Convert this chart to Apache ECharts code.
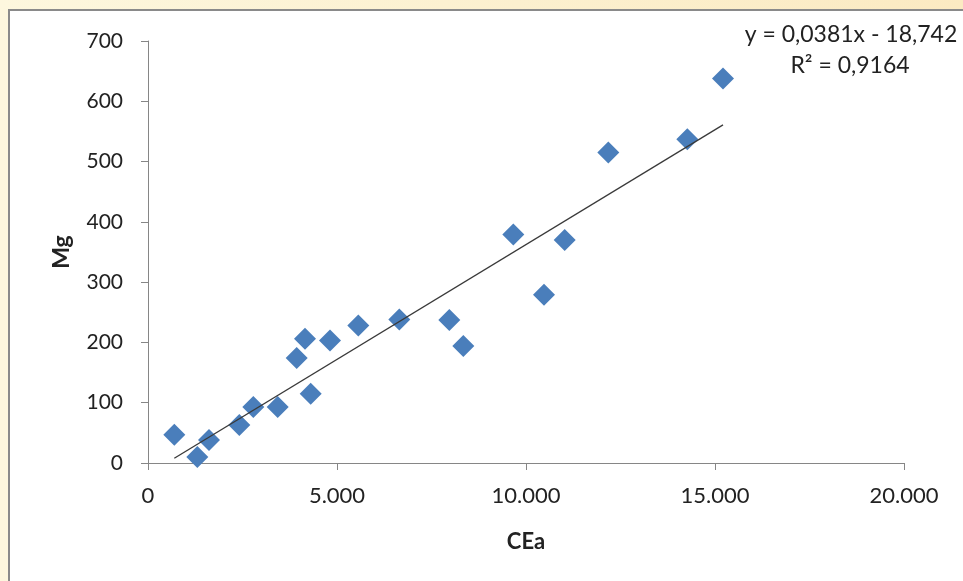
<!DOCTYPE html>
<html><head><meta charset="utf-8">
<script src="https://cdn.jsdelivr.net/npm/echarts@6/dist/echarts.min.js"></script>
<style>html,body{margin:0;padding:0;background:#fdf5da;}#c{width:963px;height:581px;}</style>
</head><body><div id="c"></div>
<script>
const ceaValues = [696, 1304, 1614, 2415, 2786, 3431, 3934, 4153, 4304, 4815, 5564, 6648, 7971, 8341, 9664, 10476, 11024, 12177, 14267, 15212];
const mgValues  = [47, 10, 38, 63, 93, 93, 174, 206, 115, 203, 228, 238, 237, 194, 379, 279, 370, 515, 537, 638];
const trendSlope = 0.0381;
const trendIntercept = -18.742;
const equationText = 'y = 0,0381x - 18,742';
const r2Text = 'R² = 0,9164';
const xTickLabels = ['0', '5.000', '10.000', '15.000', '20.000'];
const xTicks = [0, 5000, 10000, 15000, 20000];

const points = ceaValues.map((x, i) => [x, mgValues[i]]);
const xMin = Math.min(...ceaValues), xMax = Math.max(...ceaValues);
const trend = [[xMin, trendSlope * xMin + trendIntercept], [xMax, trendSlope * xMax + trendIntercept]];

const chart = echarts.init(document.getElementById('c'), null, {renderer: 'canvas'});
const font = 'Lato, "Open Sans", sans-serif';
chart.setOption({
  animation: false,
  backgroundColor: 'transparent',
  graphic: [
    {type: 'rect', z: -10, shape: {x: 0, y: 0, width: 963, height: 581},
     style: {fill: new echarts.graphic.LinearGradient(0, 0, 1, 0, [{offset: 0, color: '#fdf7de'}, {offset: 1, color: '#fbeac2'}])}},
    {type: 'rect', z: -9, shape: {x: 9, y: 10, width: 1000, height: 700},
     style: {fill: '#ffffff', stroke: '#8a8a8a', lineWidth: 2}},
    {type: 'text', x: 851, y: 35, z: 10,
     style: {text: equationText, font: '23px ' + font, fill: '#222', align: 'center', verticalAlign: 'middle'}},
    {type: 'text', x: 850, y: 66, z: 10,
     style: {text: r2Text, font: '23px ' + font, fill: '#222', align: 'center', verticalAlign: 'middle'}}
  ],
  grid: {left: 148, right: 59, top: 41, bottom: 118, containLabel: false},
  xAxis: {
    type: 'value', min: 0, max: 20000, interval: 5000,
    name: 'CEa', nameLocation: 'middle', nameGap: 68,
    nameTextStyle: {fontFamily: font, fontWeight: 'bold', fontSize: 22, color: '#222'},
    axisLine: {show: true, onZero: false, lineStyle: {color: '#868686', width: 1}},
    axisTick: {show: true, length: 7, lineStyle: {color: '#868686'}},
    splitLine: {show: false},
    axisLabel: {fontFamily: font, fontSize: 22, color: '#222', margin: 22,
      formatter: v => { const i = xTicks.indexOf(v); return i >= 0 ? xTickLabels[i] : ''; }}
  },
  yAxis: {
    type: 'value', min: 0, max: 700, interval: 100,
    name: 'Mg', nameLocation: 'middle', nameGap: 75, nameRotate: 90,
    nameTextStyle: {fontFamily: font, fontWeight: 'bold', fontSize: 23, color: '#222'},
    axisLine: {show: true, lineStyle: {color: '#868686', width: 1}},
    axisTick: {show: true, length: 7, lineStyle: {color: '#868686'}},
    splitLine: {show: false},
    axisLabel: {fontFamily: font, fontSize: 21, color: '#222', margin: 25}
  },
  series: [
    {type: 'line', data: trend, symbol: 'none', z: 3,
     lineStyle: {color: '#3a3a3a', width: 1.3}, silent: true},
    {type: 'scatter', data: points, symbol: 'diamond', symbolSize: 22, z: 2,
     itemStyle: {color: '#4a7ebb', opacity: 1}}
  ]
});
</script></body></html>
